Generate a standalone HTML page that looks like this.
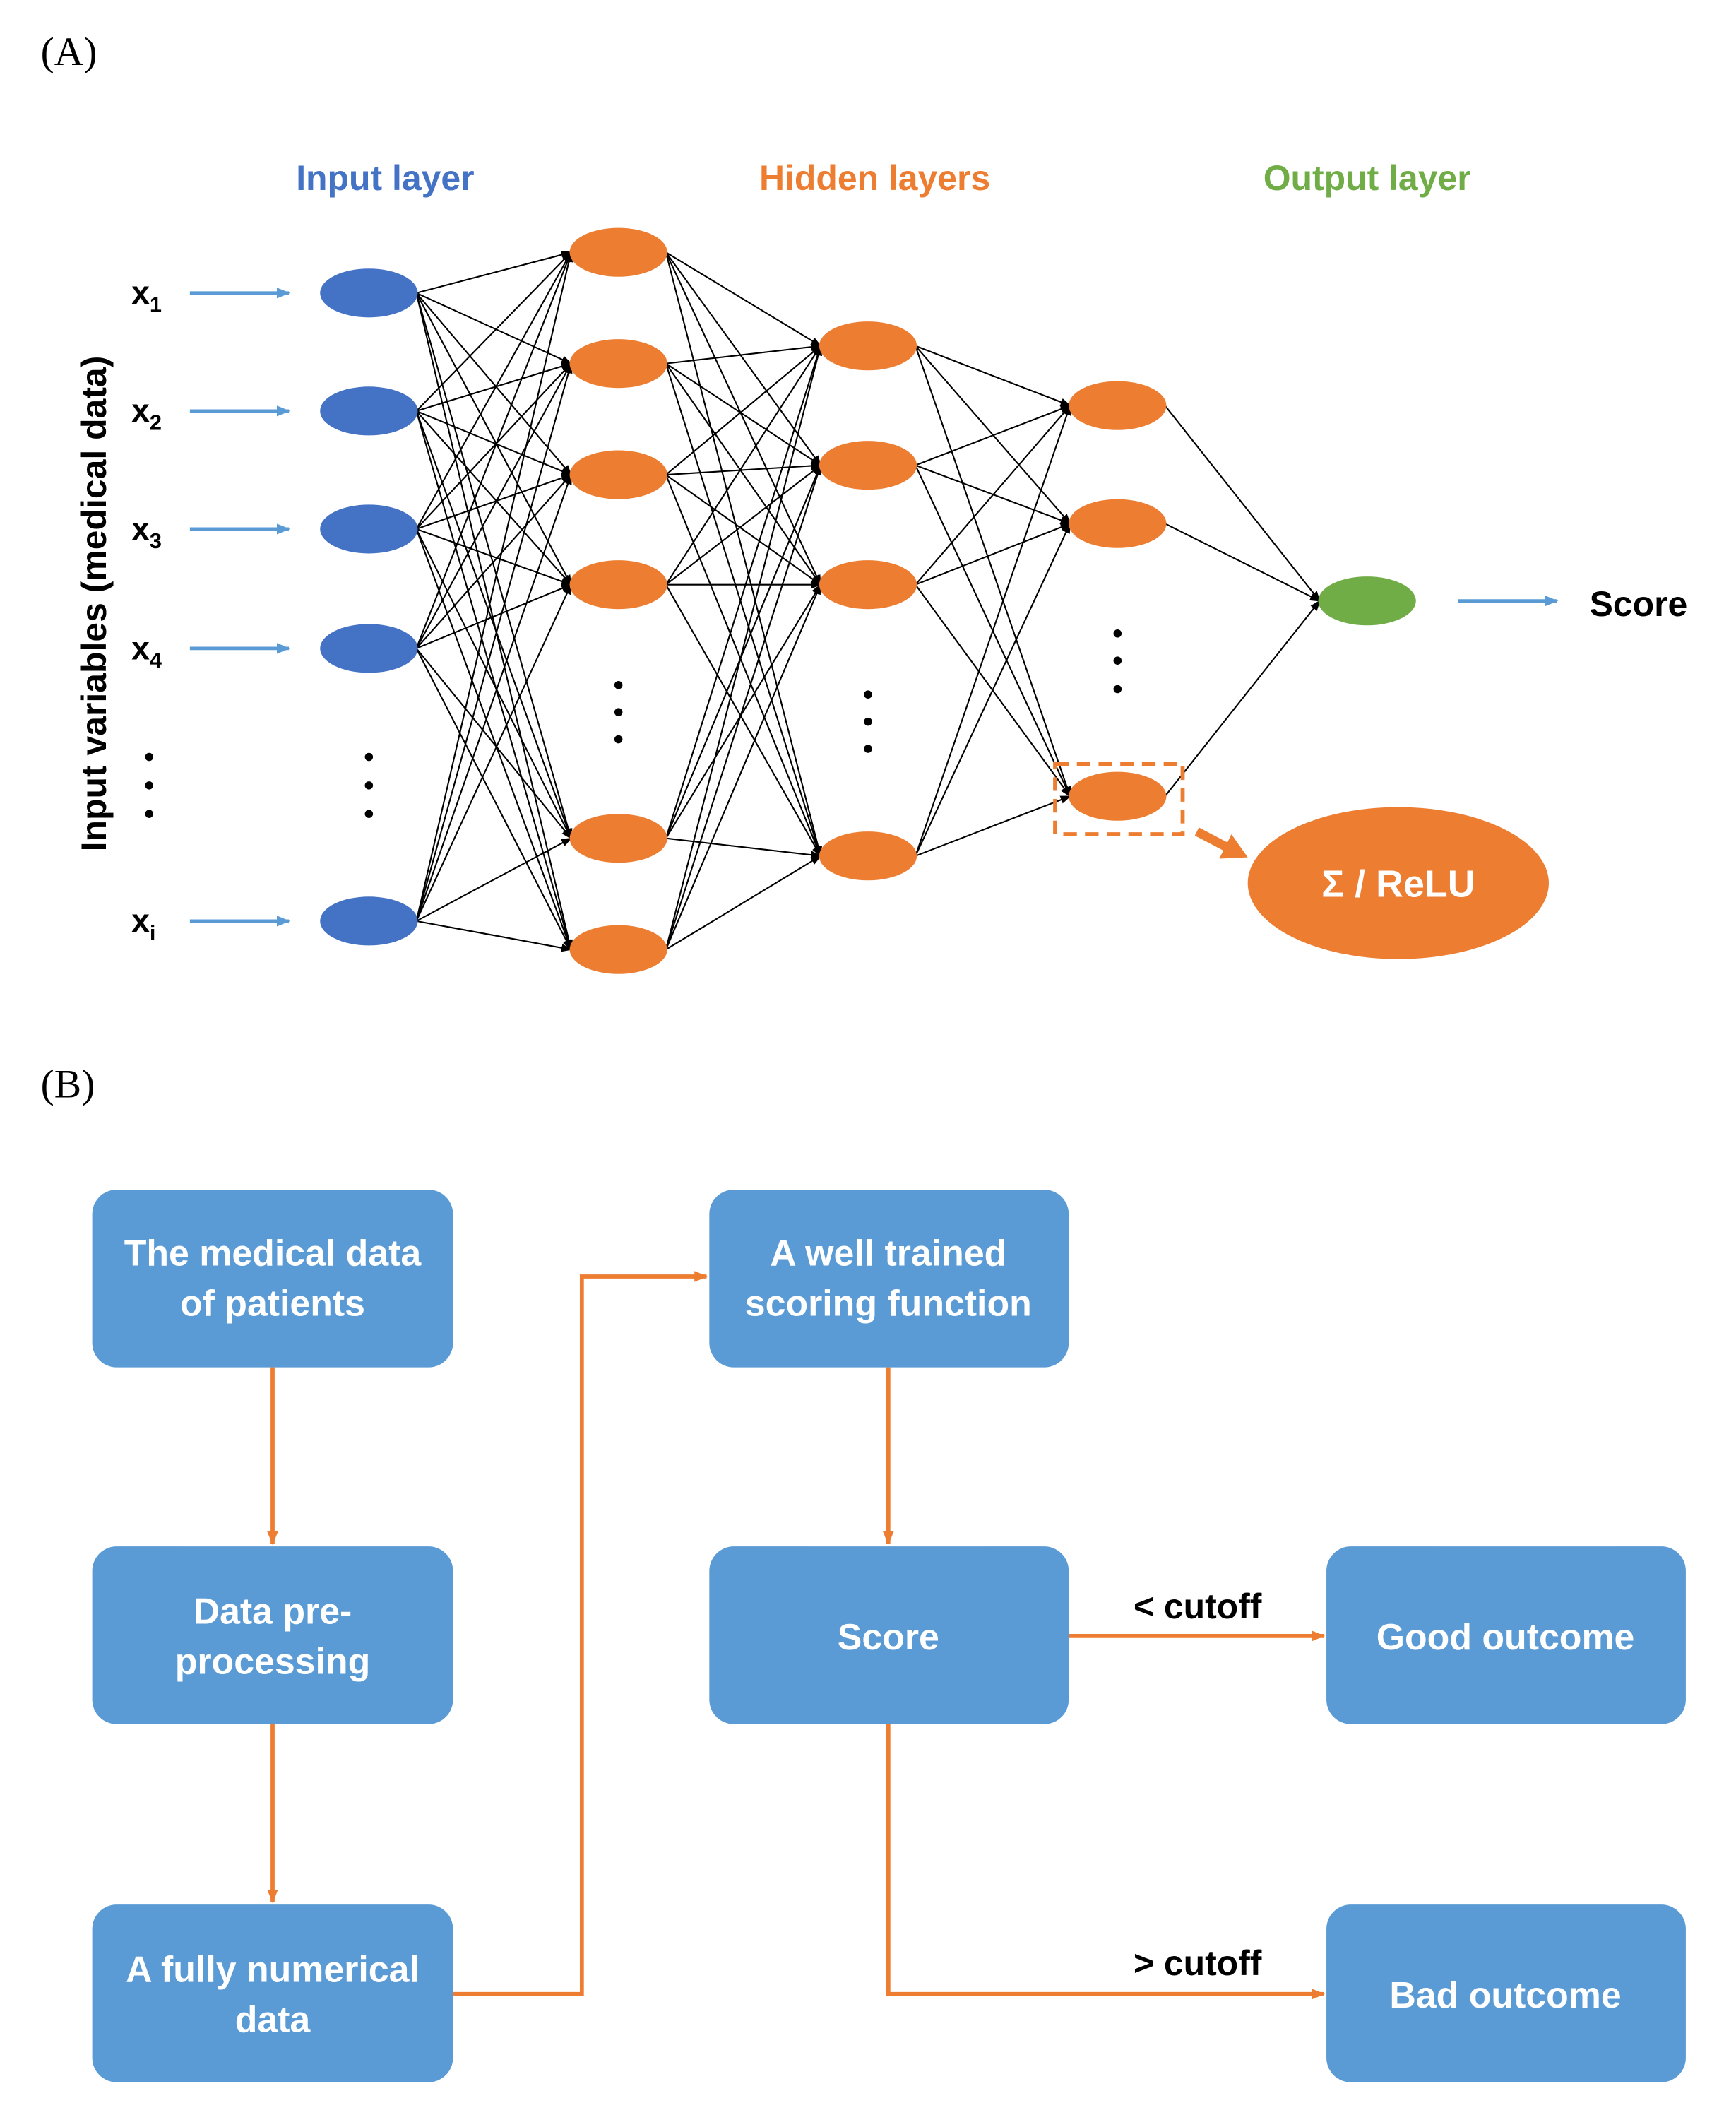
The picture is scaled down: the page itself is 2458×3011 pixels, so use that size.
<!DOCTYPE html>
<html><head><meta charset="utf-8"><style>
html,body{margin:0;padding:0;background:#fff;}
svg{display:block;}
text{font-family:"Liberation Sans",sans-serif;}
</style></head><body>
<svg id="s" width="2458" height="3011" viewBox="0 0 1280 1568" xmlns="http://www.w3.org/2000/svg">
<defs>
<marker id="ak" markerWidth="8" markerHeight="8" refX="7" refY="4" orient="auto" markerUnits="userSpaceOnUse"><path d="M0,1 L8,4 L0,7 z" fill="#000"/></marker>
<marker id="ab" markerWidth="10" markerHeight="10" refX="9" refY="5" orient="auto" markerUnits="userSpaceOnUse"><path d="M0,1 L10,5 L0,9 z" fill="#5b9bd5"/></marker>
<marker id="ao" markerWidth="10" markerHeight="10" refX="9" refY="5" orient="auto" markerUnits="userSpaceOnUse"><path d="M0,1 L10,5 L0,9 z" fill="#ed7d31"/></marker>
</defs>
<text x="30" y="48" font-family="Liberation Serif,serif" style="font-family:'Liberation Serif',serif" font-size="30">(A)</text>
<text x="30" y="809" style="font-family:'Liberation Serif',serif" font-size="30">(B)</text>

<g font-weight="bold" font-size="26" text-anchor="middle">
<text x="284" y="140" fill="#4472c4">Input layer</text>
<text x="645" y="140" fill="#ed7d31">Hidden layers</text>
<text x="1008" y="140" fill="#70ad47">Output layer</text>
</g>
<text transform="translate(78,445) rotate(-90)" text-anchor="middle" font-weight="bold" font-size="26">Input variables (medical data)</text>

<g id="edges" stroke="#000" stroke-width="1.1"></g>
<g id="nodes"></g>

<g font-weight="bold" font-size="24">
<text x="97" y="224">x<tspan font-size="16" dy="6">1</tspan></text>
<text x="97" y="311">x<tspan font-size="16" dy="6">2</tspan></text>
<text x="97" y="398">x<tspan font-size="16" dy="6">3</tspan></text>
<text x="97" y="486">x<tspan font-size="16" dy="6">4</tspan></text>
<text x="97" y="687">x<tspan font-size="16" dy="6">i</tspan></text>
<text x="1172" y="454" font-size="26">Score</text>
</g>
<g stroke="#5b9bd5" stroke-width="2.5" marker-end="url(#ab)">
<line x1="140" y1="216" x2="213" y2="216"/><line x1="140" y1="303" x2="213" y2="303"/>
<line x1="140" y1="390" x2="213" y2="390"/><line x1="140" y1="478" x2="213" y2="478"/>
<line x1="140" y1="679" x2="213" y2="679"/><line x1="1075" y1="443" x2="1148" y2="443"/>
</g>
<g fill="#000">
<circle cx="110" cy="558" r="3"/><circle cx="110" cy="579" r="3"/><circle cx="110" cy="600" r="3"/>
<circle cx="272" cy="558" r="3"/><circle cx="272" cy="579" r="3"/><circle cx="272" cy="600" r="3"/>
<circle cx="456" cy="505" r="3"/><circle cx="456" cy="525" r="3"/><circle cx="456" cy="545" r="3"/>
<circle cx="640" cy="512" r="3"/><circle cx="640" cy="532" r="3"/><circle cx="640" cy="552" r="3"/>
<circle cx="824" cy="467" r="3"/><circle cx="824" cy="487" r="3"/><circle cx="824" cy="508" r="3"/>
</g>
<rect x="778" y="563" width="94" height="52" fill="none" stroke="#ed7d31" stroke-width="3" stroke-dasharray="10,6"/>
<path d="M884,610 L905,621 L908,615 L920,632 L899,633 L902,627 L881,616 z" fill="#ed7d31"/>
<ellipse cx="1031" cy="651" rx="111" ry="56" fill="#ed7d31"/>
<text x="1031" y="661" text-anchor="middle" fill="#fff" font-weight="bold" font-size="28">Σ / ReLU</text>

<!-- Part B -->
<g fill="#5b9bd5">
<rect x="68" y="877" width="266" height="131" rx="18"/>
<rect x="68" y="1140" width="266" height="131" rx="18"/>
<rect x="68" y="1404" width="266" height="131" rx="18"/>
<rect x="523" y="877" width="265" height="131" rx="18"/>
<rect x="523" y="1140" width="265" height="131" rx="18"/>
<rect x="978" y="1140" width="265" height="131" rx="18"/>
<rect x="978" y="1404" width="265" height="131" rx="18"/>
</g>
<g fill="#fff" font-weight="bold" font-size="27" text-anchor="middle">
<text x="201" y="933">The medical data</text><text x="201" y="970">of patients</text>
<text x="201" y="1197">Data pre-</text><text x="201" y="1234">processing</text>
<text x="201" y="1461">A fully numerical</text><text x="201" y="1498">data</text>
<text x="655" y="933">A well trained</text><text x="655" y="970">scoring function</text>
<text x="655" y="1216">Score</text>
<text x="1110" y="1216">Good outcome</text>
<text x="1110" y="1480">Bad outcome</text>
</g>
<g stroke="#ed7d31" stroke-width="3" fill="none" marker-end="url(#ao)">
<line x1="201" y1="1008" x2="201" y2="1138"/>
<line x1="201" y1="1271" x2="201" y2="1402"/>
<polyline points="334,1470 429,1470 429,941 521,941"/>
<line x1="655" y1="1008" x2="655" y2="1138"/>
<line x1="788" y1="1206" x2="976" y2="1206"/>
<polyline points="655,1271 655,1470 976,1470"/>
</g>
<g font-weight="bold" font-size="26" text-anchor="middle">
<text x="883" y="1193">&lt; cutoff</text>
<text x="883" y="1456">&gt; cutoff</text>
</g>
</svg>
<script>
var L=[[272,[216,303,390,478,679],"#4472c4"],[456,[186,268,350,431,618,700],"#ed7d31"],[640,[255,343,431,631],"#ed7d31"],[824,[299,386,587],"#ed7d31"],[1008,[443],"#70ad47"]];
var NS="http://www.w3.org/2000/svg",E=document.getElementById("edges"),N=document.getElementById("nodes");
for(var i=0;i<L.length-1;i++){var a=L[i],b=L[i+1];a[1].forEach(function(y1){b[1].forEach(function(y2){var l=document.createElementNS(NS,"line");l.setAttribute("x1",a[0]+35);l.setAttribute("y1",y1);l.setAttribute("x2",b[0]-35);l.setAttribute("y2",y2);l.setAttribute("marker-end","url(#ak)");E.appendChild(l);});});}
L.forEach(function(c){c[1].forEach(function(y){var e=document.createElementNS(NS,"ellipse");e.setAttribute("cx",c[0]);e.setAttribute("cy",y);e.setAttribute("rx",36);e.setAttribute("ry",18);e.setAttribute("fill",c[2]);N.appendChild(e);});});
</script>
</body></html>
